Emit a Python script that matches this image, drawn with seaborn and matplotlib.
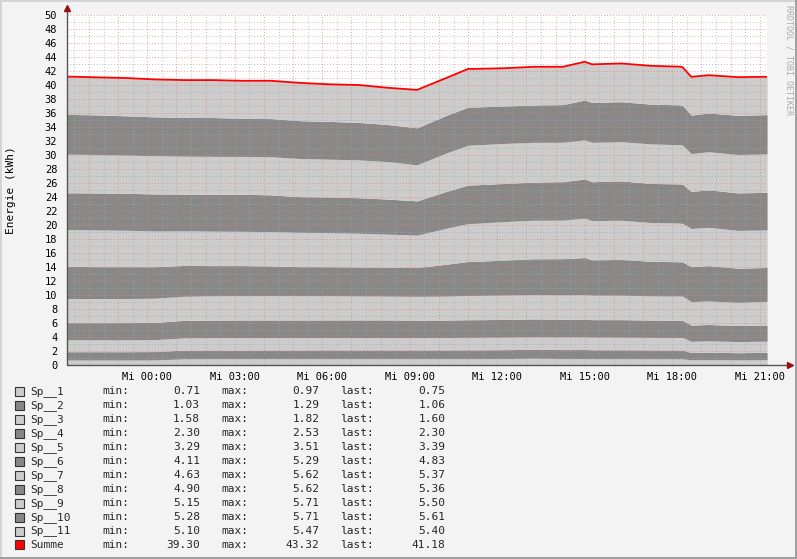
import numpy as np
import pandas as pd
import matplotlib
matplotlib.use("Agg")
import matplotlib.pyplot as plt
import seaborn as sns
from matplotlib.patches import Rectangle

# ---------------- data (hours relative to Wednesday 00:00) ----------------
hours = [-2.75, -1.75, -0.75, 0.25, 1.25, 2.25, 3.25, 4.25, 5.25, 6.25, 7.25, 8.25, 9.25,
         10.25, 11.0, 11.25, 12.25, 13.25, 14.25, 15.0, 15.25, 16.25, 17.25, 18.25,
         18.35, 18.65, 19.25, 20.25, 21.25]

sp1 = [0.71, 0.71, 0.71, 0.72, 0.88, 0.90, 0.90, 0.90, 0.90, 0.90, 0.90, 0.90, 0.90,
       0.90, 0.90, 0.90, 0.92, 0.97, 0.92, 0.92, 0.90, 0.90, 0.89, 0.88, 0.88, 0.73, 0.76, 0.73, 0.75]
sp2 = [1.19, 1.19, 1.19, 1.20, 1.25, 1.25, 1.24, 1.25, 1.25, 1.26, 1.26, 1.26, 1.26,
       1.26, 1.27, 1.27, 1.27, 1.28, 1.28, 1.29, 1.28, 1.28, 1.27, 1.27, 1.27, 1.05, 1.08, 1.03, 1.06]
sp3 = [1.70, 1.70, 1.70, 1.70, 1.74, 1.76, 1.76, 1.76, 1.76, 1.76, 1.76, 1.76, 1.75,
       1.76, 1.78, 1.78, 1.79, 1.80, 1.82, 1.82, 1.80, 1.80, 1.78, 1.78, 1.78, 1.60, 1.62, 1.58, 1.60]
sp4 = [2.45, 2.45, 2.46, 2.47, 2.50, 2.51, 2.53, 2.52, 2.52, 2.52, 2.52, 2.52, 2.50,
       2.50, 2.52, 2.52, 2.53, 2.53, 2.52, 2.52, 2.50, 2.50, 2.48, 2.47, 2.46, 2.32, 2.33, 2.30, 2.30]
sp5 = [3.45, 3.45, 3.44, 3.45, 3.45, 3.46, 3.47, 3.47, 3.47, 3.45, 3.42, 3.40, 3.40,
       3.42, 3.47, 3.47, 3.48, 3.50, 3.50, 3.51, 3.50, 3.50, 3.45, 3.45, 3.45, 3.35, 3.36, 3.29, 3.39]
sp6 = [4.60, 4.55, 4.55, 4.50, 4.40, 4.32, 4.30, 4.25, 4.15, 4.15, 4.14, 4.12, 4.11,
       4.55, 4.85, 4.86, 5.00, 5.10, 5.15, 5.29, 5.05, 5.10, 4.95, 4.90, 4.90, 5.00, 5.05, 4.90, 4.83]
sp7 = [5.25, 5.25, 5.20, 5.10, 4.95, 4.92, 4.90, 4.90, 4.90, 4.86, 4.82, 4.74, 4.63,
       5.15, 5.42, 5.44, 5.50, 5.50, 5.50, 5.62, 5.60, 5.60, 5.54, 5.52, 5.50, 5.45, 5.47, 5.40, 5.37]
sp8 = [5.25, 5.28, 5.28, 5.30, 5.25, 5.28, 5.30, 5.25, 5.10, 5.10, 5.08, 5.00, 4.90,
       5.25, 5.50, 5.50, 5.45, 5.45, 5.50, 5.60, 5.55, 5.62, 5.58, 5.60, 5.58, 5.30, 5.35, 5.36, 5.36]
sp9 = [5.52, 5.50, 5.45, 5.45, 5.42, 5.40, 5.40, 5.45, 5.45, 5.40, 5.40, 5.35, 5.15,
       5.50, 5.68, 5.70, 5.71, 5.68, 5.62, 5.60, 5.62, 5.60, 5.65, 5.60, 5.60, 5.40, 5.45, 5.48, 5.50]
sp10 = [5.68, 5.65, 5.62, 5.56, 5.52, 5.55, 5.45, 5.45, 5.40, 5.40, 5.35, 5.30, 5.28,
        5.36, 5.45, 5.42, 5.35, 5.34, 5.39, 5.68, 5.70, 5.71, 5.68, 5.70, 5.68, 5.50, 5.53, 5.60, 5.61]
sp11 = [5.40, 5.37, 5.40, 5.35, 5.34, 5.35, 5.35, 5.40, 5.40, 5.30, 5.35, 5.25, 5.42,
        5.35, 5.46, 5.44, 5.40, 5.45, 5.40, 5.47, 5.45, 5.47, 5.47, 5.45, 5.45, 5.47, 5.40, 5.45, 5.40]

series_names = ["Sp__1", "Sp__2", "Sp__3", "Sp__4", "Sp__5", "Sp__6",
                "Sp__7", "Sp__8", "Sp__9", "Sp__10", "Sp__11"]
series_values = [sp1, sp2, sp3, sp4, sp5, sp6, sp7, sp8, sp9, sp10, sp11]

legend_names = series_names + ["Summe"]
legend_min = ["0.71", "1.03", "1.58", "2.30", "3.29", "4.11", "4.63", "4.90", "5.15", "5.28", "5.10", "39.30"]
legend_max = ["0.97", "1.29", "1.82", "2.53", "3.51", "5.29", "5.62", "5.62", "5.71", "5.71", "5.47", "43.32"]
legend_last = ["0.75", "1.06", "1.60", "2.30", "3.39", "4.83", "5.37", "5.36", "5.50", "5.61", "5.40", "41.18"]

tick_hours = [0, 3, 6, 9, 12, 15, 18, 21]
tick_labels = ["Mi 00:00", "Mi 03:00", "Mi 06:00", "Mi 09:00",
               "Mi 12:00", "Mi 15:00", "Mi 18:00", "Mi 21:00"]

# ---------------- style ----------------
sns.set_style("white")
plt.rcParams['font.family'] = ['DejaVu Sans Mono', 'DejaVu Sans']

LIGHT = "#CCCCCC"
DARK = "#888888"
RED = "#FF0000"
BG = "#F3F3F3"

W, H = 797, 559
fig = plt.figure(figsize=(W / 100, H / 100), dpi=100, facecolor=BG)

def fx(x):
    return x / W

def fy(y):
    return 1 - y / H

# plot area: x 67..767, y 15..365
ax = fig.add_axes([fx(67), fy(365), 700 / W, 350 / H])
ax.set_facecolor("white")

x = np.array(hours)
base = np.zeros(len(x))
for i, vals in enumerate(series_values):
    top = base + np.array(vals)
    ax.fill_between(x, base, top, color=LIGHT if i % 2 == 0 else DARK, lw=0, zorder=1)
    base = top

df = pd.DataFrame({"hours": x, "Summe": base})
sns.lineplot(data=df, x="hours", y="Summe", color=RED, lw=1.3, ax=ax, zorder=3)

ax.set_xlim(-2.753, 21.247)
ax.set_ylim(0, 50)

# grid
ax.set_axisbelow(False)
maj_x = list(range(-2, 22))
ax.set_xticks(maj_x)
ax.set_xticklabels([tick_labels[tick_hours.index(h)] if h in tick_hours else "" for h in maj_x])
ax.set_xticks(np.arange(-2.5, 21.5, 1.0), minor=True)
ax.set_yticks(range(0, 51, 2))
ax.set_yticks(range(1, 50, 2), minor=True)
ax.grid(which="major", color="#E08080", alpha=0.75, lw=0.7, linestyle=(0, (1, 2)))
ax.grid(which="minor", color="#A8A8A8", alpha=0.7, lw=0.7, linestyle=(0, (1, 2)))

ax.set_xlabel("")
ax.set_ylabel("")
for s in ax.spines.values():
    s.set_visible(False)

ax.tick_params(axis="both", which="major", labelsize=7.5, colors="#333333", labelcolor="black")
ax.tick_params(axis="y", which="major", length=2, width=0.8, pad=5)
ax.tick_params(axis="y", which="minor", length=1.5, width=0.6)
ax.tick_params(axis="x", which="major", length=2, width=0.8, pad=3)
ax.tick_params(axis="x", which="minor", length=0)

# axis lines with arrows
ax.plot([0, 1.033], [0, 0], transform=ax.transAxes, clip_on=False, color="#555555", lw=1, zorder=5)
ax.plot([0, 0], [0, 1.02], transform=ax.transAxes, clip_on=False, color="#555555", lw=1, zorder=5)
ax.plot([1.033], [0], marker=">", ms=4, color="#991111", transform=ax.transAxes, clip_on=False, zorder=6)
ax.plot([0], [1.02], marker="^", ms=4, color="#991111", transform=ax.transAxes, clip_on=False, zorder=6)

# y label
fig.text(fx(11), fy(190), "Energie (kWh)", rotation=90, ha="center", va="center",
         fontsize=8, color="black")

# watermark
fig.text(fx(789), fy(5), "RRDTOOL / TOBI OETIKER", rotation=270, ha="center", va="top",
         fontsize=6, color="#AAAAAA")

# legend
row0 = 391.5
dy = 13.95
for i, name in enumerate(legend_names):
    yc = row0 + i * dy
    if i < 11:
        col = LIGHT if i % 2 == 0 else DARK
    else:
        col = RED
    fig.patches.append(Rectangle((fx(15), fy(yc + 4.5)), 9 / W, 9 / H, transform=fig.transFigure,
                                 facecolor=col, edgecolor="#333333", lw=0.8))
    fig.text(fx(30.5), fy(yc), name, ha="left", va="center", fontsize=8)
    fig.text(fx(102.5), fy(yc), "min:", ha="left", va="center", fontsize=8)
    fig.text(fx(200), fy(yc), legend_min[i], ha="right", va="center", fontsize=8)
    fig.text(fx(221.5), fy(yc), "max:", ha="left", va="center", fontsize=8)
    fig.text(fx(319.5), fy(yc), legend_max[i], ha="right", va="center", fontsize=8)
    fig.text(fx(340), fy(yc), "last:", ha="left", va="center", fontsize=8)
    fig.text(fx(445.5), fy(yc), legend_last[i], ha="right", va="center", fontsize=8)

# frame (3D shade)
fig.patches.append(Rectangle((0, fy(2)), 1, 2 / H, transform=fig.transFigure, facecolor="#D4D4D4", lw=0))
fig.patches.append(Rectangle((0, 0), 2 / W, 1, transform=fig.transFigure, facecolor="#D4D4D4", lw=0))
fig.patches.append(Rectangle((0, 0), 1, 2 / H, transform=fig.transFigure, facecolor="#A0A0A0", lw=0))
fig.patches.append(Rectangle((1 - 2 / W, 0), 2 / W, 1, transform=fig.transFigure, facecolor="#A0A0A0", lw=0))

fig.savefig("out.png", dpi=100, facecolor=BG)
